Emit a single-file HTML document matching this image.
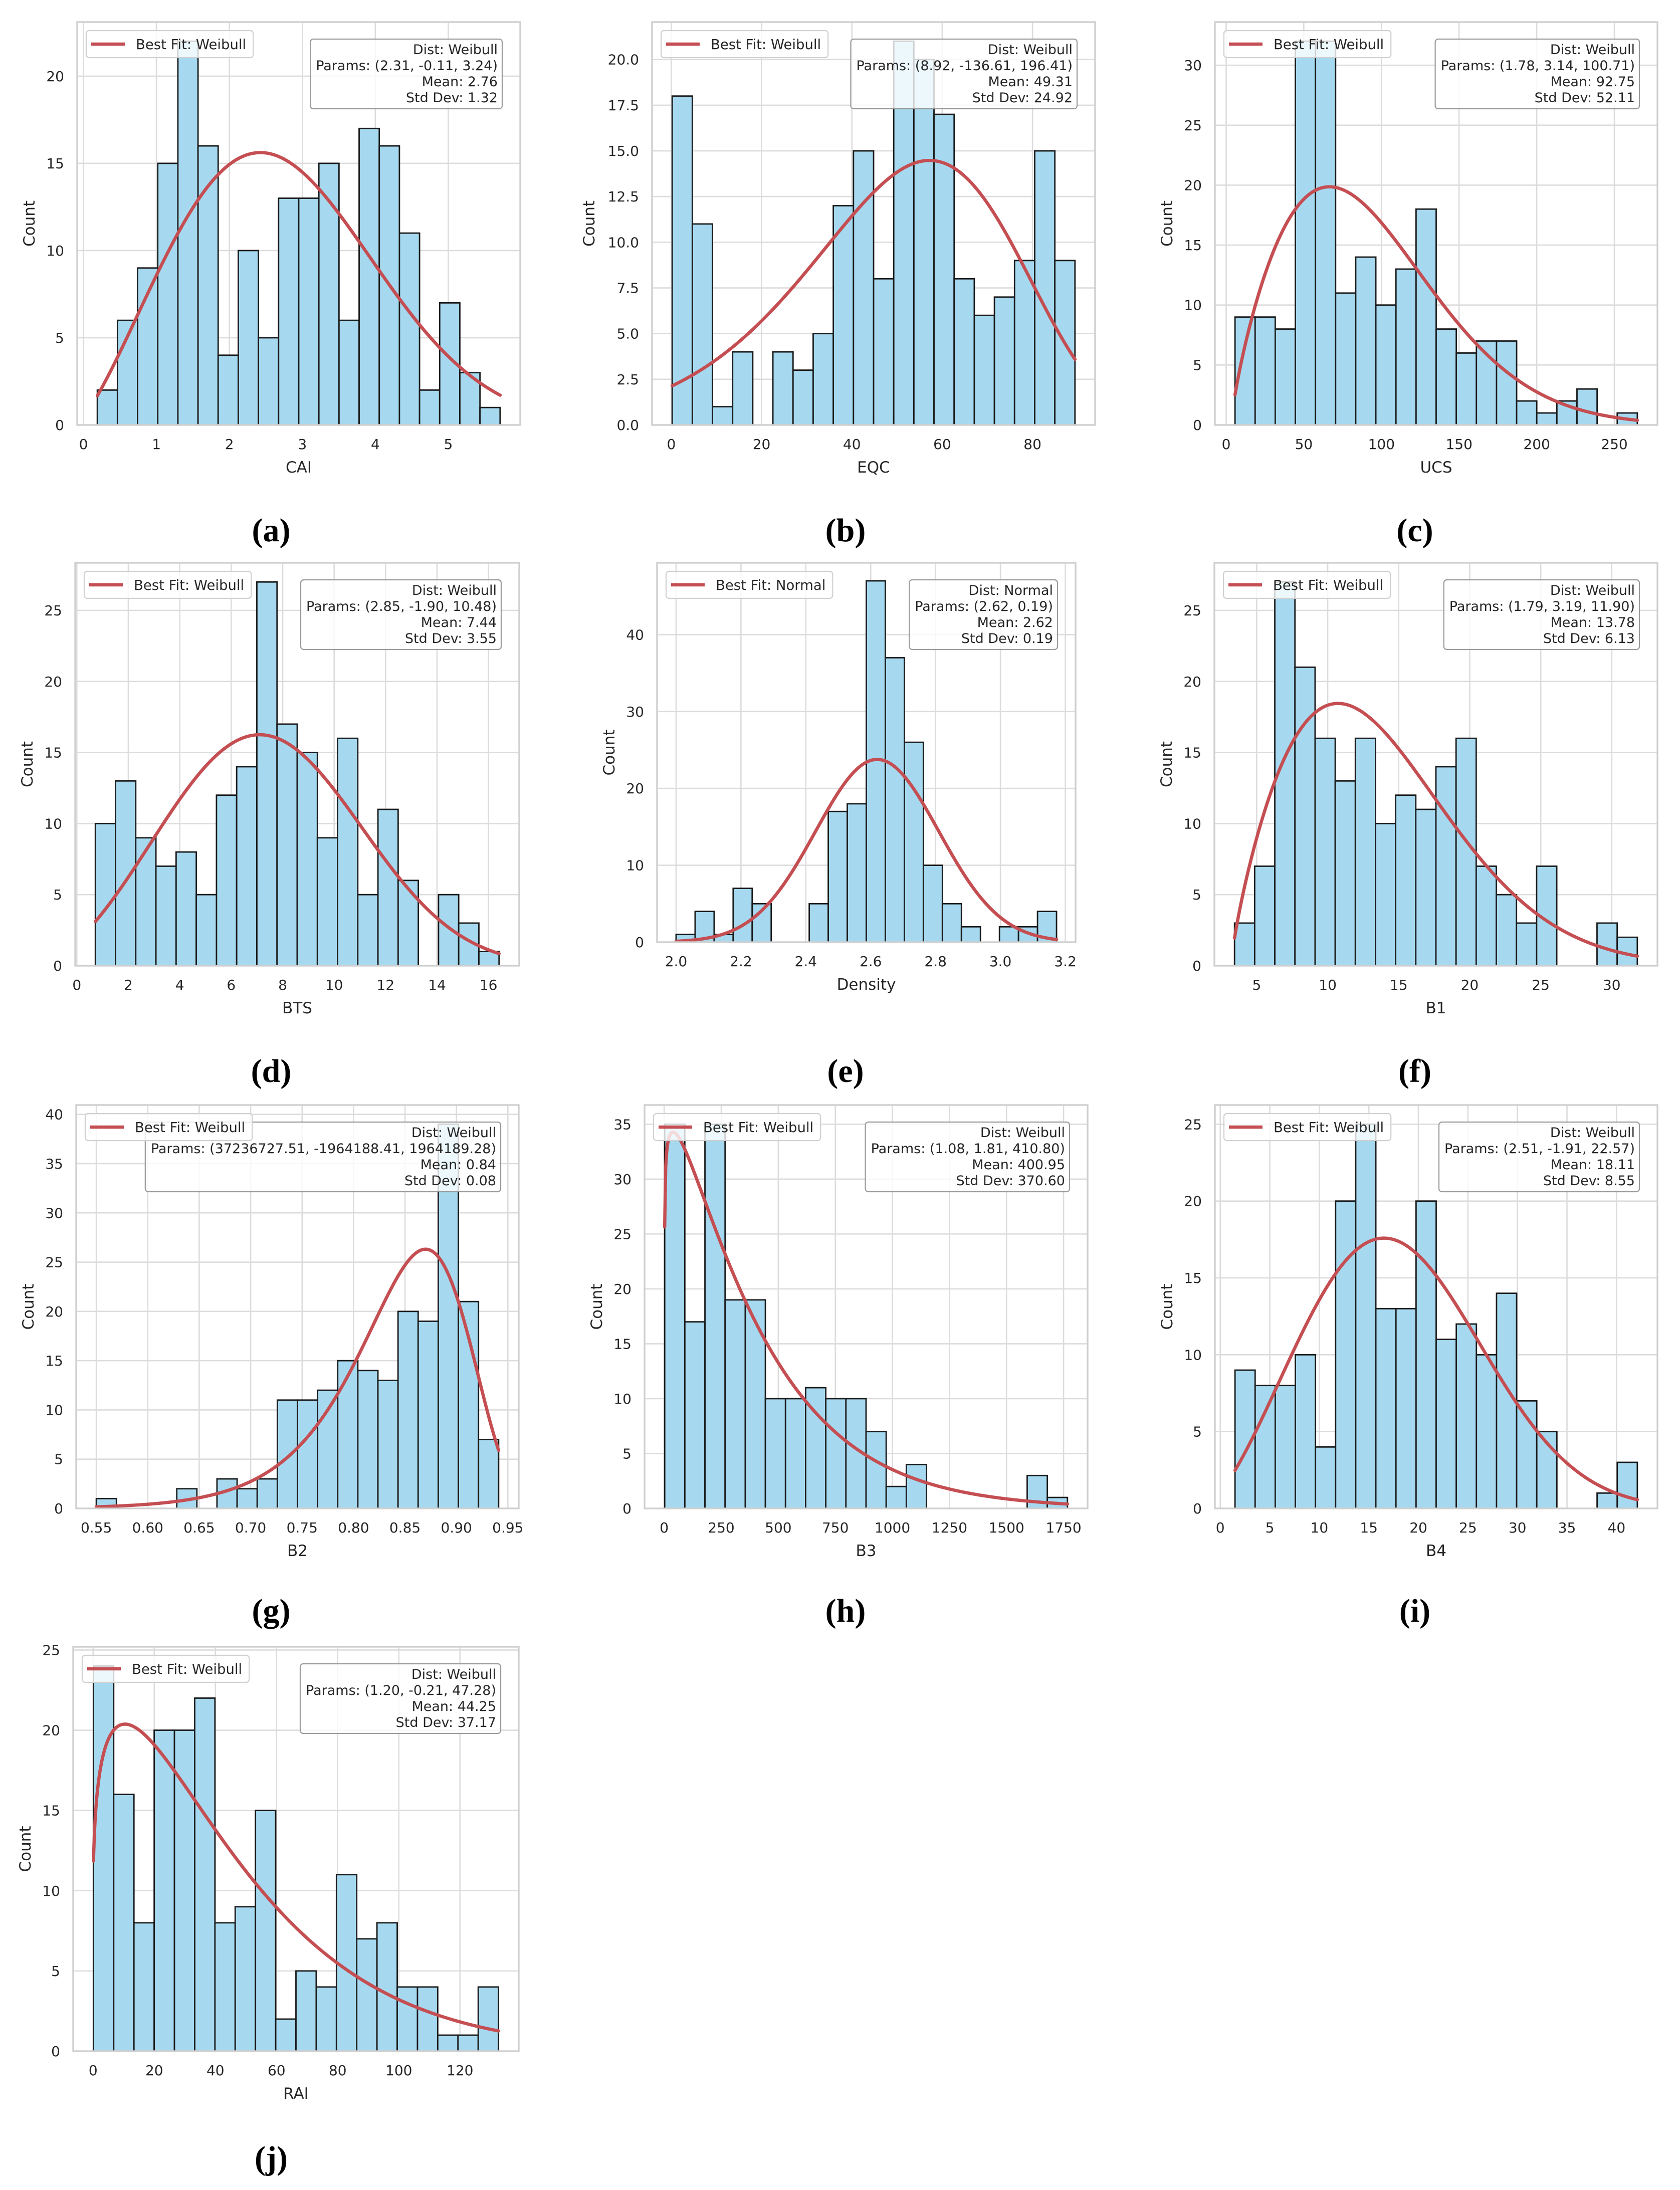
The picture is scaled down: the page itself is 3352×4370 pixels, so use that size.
<!DOCTYPE html>
<html>
<head>
<meta charset="utf-8">
<style>
  html,body{margin:0;padding:0;background:#ffffff;}
  #fig{display:block;width:3352px;height:4370px;}
</style>
</head>
<body>
<svg id="fig" xmlns="http://www.w3.org/2000/svg" width="3352" height="4370" viewBox="0 0 3352 4370"></svg>
<script>
// ---------- data ----------
const countsA = [2,6,9,15,22,16,4,10,5,13,13,15,6,17,16,11,2,7,3,1];
const rangeA = [0.19, 5.71];
const paramsA = [2.31, -0.11, 3.24];
const xticksA = [0,1,2,3,4,5];
const xlabelsA = ["0","1","2","3","4","5"];
const yticksA = [0,5,10,15,20];

const countsB = [18,11,1,4,0,4,3,5,12,15,8,21,20,17,8,6,7,9,15,9];
const rangeB = [0.2, 89.4];
const paramsB = [8.92, -136.61, 196.41];
const xticksB = [0,20,40,60,80];
const xlabelsB = ["0","20","40","60","80"];
const yticksB = [0,2.5,5,7.5,10,12.5,15,17.5,20];

const countsC = [9,9,8,32,32,11,14,10,13,18,8,6,7,7,2,1,2,3,0,1];
const rangeC = [5.7, 264.8];
const paramsC = [1.78, 3.14, 100.71];
const xticksC = [0,50,100,150,200,250];
const xlabelsC = ["0","50","100","150","200","250"];
const yticksC = [0,5,10,15,20,25,30];

const countsD = [10,13,9,7,8,5,12,14,27,17,15,9,16,5,11,6,0,5,3,1];
const rangeD = [0.72, 16.41];
const paramsD = [2.85, -1.90, 10.48];
const xticksD = [0,2,4,6,8,10,12,14,16];
const xlabelsD = ["0","2","4","6","8","10","12","14","16"];
const yticksD = [0,5,10,15,20,25];

const countsE = [1,4,1,7,5,0,0,5,17,18,47,37,26,10,5,2,0,2,2,4];
const rangeE = [2.0, 3.173];
const paramsE = [2.62, 0.19];
const xticksE = [2.0,2.2,2.4,2.6,2.8,3.0,3.2];
const xlabelsE = ["2.0","2.2","2.4","2.6","2.8","3.0","3.2"];
const yticksE = [0,10,20,30,40];

const countsF = [3,7,27,21,16,13,16,10,12,11,14,16,7,5,3,7,0,0,3,2];
const rangeF = [3.44, 31.8];
const paramsF = [1.79, 3.19, 11.90];
const xticksF = [5,10,15,20,25,30];
const xlabelsF = ["5","10","15","20","25","30"];
const yticksF = [0,5,10,15,20,25];

const countsG = [1,0,0,0,2,0,3,2,3,11,11,12,15,14,13,20,19,39,21,7];
const rangeG = [0.55, 0.941];
const paramsG = [37236727.51, -1964188.41, 1964189.28];
const xticksG = [0.55,0.60,0.65,0.70,0.75,0.80,0.85,0.90,0.95];
const xlabelsG = ["0.55","0.60","0.65","0.70","0.75","0.80","0.85","0.90","0.95"];
const yticksG = [0,5,10,15,20,25,30,35,40];

const countsH = [35,17,35,19,19,10,10,11,10,10,7,2,4,0,0,0,0,0,3,1];
const rangeH = [2.2, 1767];
const paramsH = [1.08, 1.81, 410.80];
const xticksH = [0,250,500,750,1000,1250,1500,1750];
const xlabelsH = ["0","250","500","750","1000","1250","1500","1750"];
const yticksH = [0,5,10,15,20,25,30,35];

const countsI = [9,8,8,10,4,20,25,13,13,20,11,12,10,14,7,5,0,0,1,3];
const rangeI = [1.49, 42.1];
const paramsI = [2.51, -1.91, 22.57];
const xticksI = [0,5,10,15,20,25,30,35,40];
const xlabelsI = ["0","5","10","15","20","25","30","35","40"];
const yticksI = [0,5,10,15,20,25];

const countsJ = [24,16,8,20,20,22,8,9,15,2,5,4,11,7,8,4,4,1,1,4];
const rangeJ = [0.1, 132.6];
const paramsJ = [1.20, -0.21, 47.28];
const xticksJ = [0,20,40,60,80,100,120];
const xlabelsJ = ["0","20","40","60","80","100","120"];
const yticksJ = [0,5,10,15,20,25];

// ---------- layout ----------
const panels = [
  {id:'a', xname:'CAI', counts:countsA, range:rangeA, dist:'Weibull', params:paramsA, mean:'2.76', sd:'1.32', xt:xticksA, xl:xlabelsA, yt:yticksA, dec:0, box:[154,44,1038,848], lab:[541,1058], yoff:95},
  {id:'b', xname:'EQC', counts:countsB, range:rangeB, dist:'Weibull', params:paramsB, mean:'49.31', sd:'24.92', xt:xticksB, xl:xlabelsB, yt:yticksB, dec:1, box:[1301,44,2185,848], lab:[1687,1058], yoff:125},
  {id:'c', xname:'UCS', counts:countsC, range:rangeC, dist:'Weibull', params:paramsC, mean:'92.75', sd:'52.11', xt:xticksC, xl:xlabelsC, yt:yticksC, dec:0, box:[2424,44,3307,848], lab:[2823,1058], yoff:95},
  {id:'d', xname:'BTS', counts:countsD, range:rangeD, dist:'Weibull', params:paramsD, mean:'7.44', sd:'3.55', xt:xticksD, xl:xlabelsD, yt:yticksD, dec:0, box:[150,1123,1036,1927], lab:[541,2137], yoff:95},
  {id:'e', xname:'Density', counts:countsE, range:rangeE, dist:'Normal', params:paramsE, mean:'2.62', sd:'0.19', xt:xticksE, xl:xlabelsE, yt:yticksE, dec:0, box:[1311,1123,2146,1880], lab:[1687,2137], yoff:95},
  {id:'f', xname:'B1', counts:countsF, range:rangeF, dist:'Weibull', params:paramsF, mean:'13.78', sd:'6.13', xt:xticksF, xl:xlabelsF, yt:yticksF, dec:0, box:[2423,1123,3307,1927], lab:[2823,2137], yoff:95},
  {id:'g', xname:'B2', counts:countsG, range:rangeG, dist:'Weibull', params:paramsG, mean:'0.84', sd:'0.08', xt:xticksG, xl:xlabelsG, yt:yticksG, dec:0, box:[152,2205,1035,3010], lab:[541,3214], yoff:95},
  {id:'h', xname:'B3', counts:countsH, range:rangeH, dist:'Weibull', params:paramsH, mean:'400.95', sd:'370.60', xt:xticksH, xl:xlabelsH, yt:yticksH, dec:0, box:[1286,2205,2170,3010], lab:[1687,3214], yoff:95},
  {id:'i', xname:'B4', counts:countsI, range:rangeI, dist:'Weibull', params:paramsI, mean:'18.11', sd:'8.55', xt:xticksI, xl:xlabelsI, yt:yticksI, dec:0, box:[2424,2205,3307,3010], lab:[2823,3214], yoff:95},
  {id:'j', xname:'RAI', counts:countsJ, range:rangeJ, dist:'Weibull', params:paramsJ, mean:'44.25', sd:'37.17', xt:xticksJ, xl:xlabelsJ, yt:yticksJ, dec:0, box:[146,3286,1035,4093], lab:[541,4306], yoff:95}
];

const NS = 'http://www.w3.org/2000/svg';
const svg = document.getElementById('fig');
const FONT = '"DejaVu Sans", "Liberation Sans", sans-serif';

function el(tag, attrs, parent){
  const e = document.createElementNS(NS, tag);
  for (const k in attrs) e.setAttribute(k, attrs[k]);
  (parent || svg).appendChild(e);
  return e;
}
function weibullPdf(x, c, loc, s){
  const z = (x - loc) / s;
  if (z <= 0) return 0;
  const lz = Math.log(z);
  return c / s * Math.exp((c - 1) * lz - Math.exp(c * lz));
}
function normalPdf(x, m, s){
  return Math.exp(-0.5 * ((x - m) / s) ** 2) / (s * Math.sqrt(2 * Math.PI));
}
function fmtParam(v){ return v.toFixed(2); }

panels.forEach(p => {
  const [L,T,R,B] = p.box;
  const n = p.counts.length;
  const span = p.range[1] - p.range[0];
  const bw = span / n;
  const x0 = p.range[0] - 0.05 * span, x1 = p.range[1] + 0.05 * span;
  const ymax = 1.05 * Math.max(...p.counts);
  const N = p.counts.reduce((a,b)=>a+b, 0);
  const sx = v => L + (v - x0) / (x1 - x0) * (R - L);
  const sy = v => B - v / ymax * (B - T);

  const g = el('g', {});
  
  

  const clipId = 'clip-' + p.id;
  const cp = el('clipPath', {id: clipId}, g);
  el('rect', {x:L, y:T, width:R-L, height:B-T}, cp);

  // grid
  const grid = el('g', {stroke:'#dcdcdc', 'stroke-width':2.6}, g);
  
  
  p.xt.forEach(v => {
    if (v < x0 || v > x1) return;
    const gl = el('line', {x1:sx(v), x2:sx(v), y1:T, y2:B}, grid);
    
    
  });
  p.yt.forEach(v => {
    if (v > ymax) return;
    const gl = el('line', {x1:L, x2:R, y1:sy(v), y2:sy(v)}, grid);
    
    
  });

  // bars
  const bars = el('g', {'clip-path':'url(#'+clipId+')'}, g);
  
  
  p.counts.forEach((cnt, i) => {
    if (cnt <= 0) return;
    const a = p.range[0] + i * bw, b = a + bw;
    const r = el('rect', {x:sx(a), y:sy(cnt), width:sx(b)-sx(a), height:sy(0)-sy(cnt),
      fill:'#a6d9ef', stroke:'#1a1a1a', 'stroke-width':2.8}, bars);
    
    
  });

  // fit curve
  const pts = [];
  const steps = 400;
  for (let k = 0; k <= steps; k++){
    const x = p.range[0] + span * k / steps;
    const pdf = p.dist === 'Normal' ? normalPdf(x, p.params[0], p.params[1])
                                    : weibullPdf(x, p.params[0], p.params[1], p.params[2]);
    pts.push(sx(x).toFixed(2) + ',' + sy(pdf * N * bw).toFixed(2));
  }
  const curve = el('polyline', {points: pts.join(' '), fill:'none', stroke:'#c44e52', 'stroke-width':6.5,
    'stroke-linejoin':'round', 'stroke-linecap':'round', 'clip-path':'url(#'+clipId+')'}, g);
  
  

  // spines
  const frame = el('rect', {x:L, y:T, width:R-L, height:B-T, fill:'none', stroke:'#cfcfcf', 'stroke-width':3.4}, g);
  
  

  // tick labels
  p.xt.forEach((v, i) => {
    if (v < x0 - 1e-9 || v > x1 + 1e-9) return;
    const t = el('text', {x:sx(v), y:B+48, 'text-anchor':'middle', 'font-family':FONT, 'font-size':28, fill:'#262626'}, g);
    t.textContent = p.xl[i];
    
    
  });
  p.yt.forEach(v => {
    if (v > ymax) return;
    const t = el('text', {x:L-26, y:sy(v)+10, 'text-anchor':'end', 'font-family':FONT, 'font-size':28, fill:'#262626'}, g);
    t.textContent = p.dec ? v.toFixed(p.dec) : String(v);
    
    
  });

  // axis labels
  const xt = el('text', {x:(L+R)/2, y:B+95, 'text-anchor':'middle', 'font-family':FONT, 'font-size':31, fill:'#262626'}, g);
  xt.textContent = p.xname;
  
  
  const cy = (T+B)/2;
  const yx = L - p.yoff;
  const yt = el('text', {x:yx, y:cy, 'text-anchor':'middle', 'dominant-baseline':'central', 'font-family':FONT, 'font-size':31, fill:'#262626',
    transform:'rotate(-90 ' + yx + ' ' + cy + ')'}, g);
  yt.textContent = 'Count';
  
  

  // stats box (drawn before legend so legend sits on top)
  const sb = el('g', {}, g);
  
  
  const sRight = R - 36, sTop = T + 34;
  const srect = el('rect', {x:sRight-300, y:sTop, width:300, height:139, rx:6, ry:6, fill:'#ffffff', 'fill-opacity':0.8, stroke:'#9a9a9a', 'stroke-width':2.2}, sb);
  
  
  const lines = ['Dist: ' + p.dist,
                 'Params: (' + p.params.map(fmtParam).join(', ') + ')',
                 'Mean: ' + p.mean,
                 'Std Dev: ' + p.sd];
  let maxW = 0;
  lines.forEach((s, i) => {
    const t = el('text', {x:sRight-9, y:sTop+30+i*32, 'text-anchor':'end', 'font-family':FONT, 'font-size':27, fill:'#262626'}, sb);
    t.textContent = s;
    
    
    maxW = Math.max(maxW, t.getComputedTextLength());
  });
  srect.setAttribute('x', sRight - maxW - 20);
  srect.setAttribute('width', maxW + 20);

  // legend
  const lg = el('g', {}, g);
  
  
  const lrect = el('rect', {x:L+18, y:T+17, width:300, height:54, rx:6, ry:6, fill:'#ffffff', 'fill-opacity':0.8, stroke:'#d0d0d0', 'stroke-width':2.2}, lg);
  
  
  const lline = el('line', {x1:L+28, x2:L+95, y1:T+44, y2:T+44, stroke:'#c44e52', 'stroke-width':6.5}, lg);
  
  
  const ltext = el('text', {x:L+117, y:T+54, 'font-family':FONT, 'font-size':27.5, fill:'#262626'}, lg);
  ltext.textContent = 'Best Fit: ' + p.dist;
  
  
  lrect.setAttribute('width', ltext.getComputedTextLength() + 117 - 18 + 14);

  // panel label
  const pl = el('text', {x:p.lab[0], y:p.lab[1]+22, 'text-anchor':'middle', 'font-family':'"Liberation Serif", serif', 'font-size':66, 'font-weight':'bold', fill:'#000000'}, g);
  pl.textContent = '(' + p.id + ')';
  
  
});
</script>
</body>
</html>
